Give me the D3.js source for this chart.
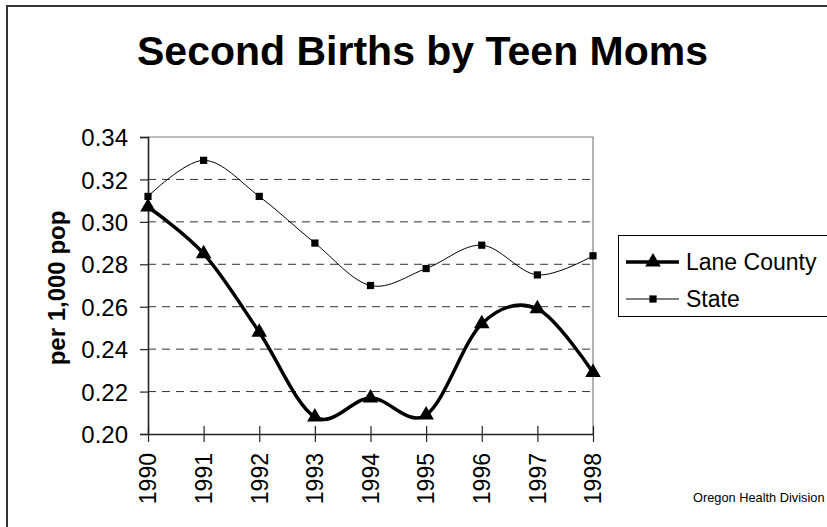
<html>
<head>
	<meta charset='utf-8' />
	<title>Second Births by Teen Moms</title>
	<script src="https://d3js.org/d3.v7.min.js"></script>
	<style>
	body { margin: 0; background: #fff; overflow: hidden; }
	text { font-family: "Liberation Sans", Arial, sans-serif; fill: #000; }
	</style>
</head>
<body>
<script>

	// data
	var years = [1990, 1991, 1992, 1993, 1994, 1995, 1996, 1997, 1998];
	var laneCounty = [0.307, 0.285, 0.248, 0.208, 0.217, 0.209, 0.252, 0.259, 0.229];
	var state = [0.312, 0.329, 0.312, 0.290, 0.270, 0.278, 0.289, 0.275, 0.284];
	var yTicks = [0.20, 0.22, 0.24, 0.26, 0.28, 0.30, 0.32, 0.34];

	var W = 827, H = 527;
	var plot = {left: 148, right: 593, top: 137, bottom: 434};

	var svg = d3.select("body").append("svg")
		.attr("width", W)
		.attr("height", H)
		.attr("xmlns","http://www.w3.org/2000/svg");

	// chart frame (only top and left show in the crop)
	svg.append("path")
		.attr("d", "M7," + (H + 5) + "V6H" + (W + 5))
		.attr("fill", "none")
		.attr("stroke", "#333")
		.attr("stroke-width", 2);

	svg.append("text")
		.attr("x", 137)
		.attr("y", 65)
		.attr("font-size", "41px")
		.attr("font-weight", "bold")
		.text("Second Births by Teen Moms");

	var xScale = d3.scalePoint().domain(years).range([plot.left, plot.right]);
	var yScale = d3.scaleLinear().domain([0.20, 0.34]).range([plot.bottom, plot.top]);

	// dashed gridlines
	svg.append("g").selectAll("line")
		.data(yTicks.filter(function(d) { return d > 0.201 && d < 0.339; }))
		.enter().append("line")
		.attr("x1", plot.left)
		.attr("x2", plot.right)
		.attr("y1", function(d) { return yScale(d); })
		.attr("y2", function(d) { return yScale(d); })
		.attr("stroke", "#333")
		.attr("stroke-width", 1)
		.attr("stroke-dasharray", "8 6");

	// plot area border (top / right grey)
	svg.append("path")
		.attr("d", "M" + plot.left + "," + plot.top + "H" + plot.right + "V" + plot.bottom)
		.attr("fill", "none")
		.attr("stroke", "#808080")
		.attr("stroke-width", 1.2);

	// y axis
	var yAxis = svg.append("g")
		.attr("transform", "translate(" + plot.left + ",0)")
		.call(d3.axisLeft(yScale).tickValues(yTicks).tickFormat(d3.format(".2f")).tickSize(8).tickPadding(12));
	yAxis.select(".domain").attr("stroke", "#222").attr("stroke-width", 1.6);
	yAxis.selectAll(".tick line").attr("stroke", "#222").attr("stroke-width", 1.2);
	yAxis.selectAll("text")
		.attr("font-family", "'Liberation Sans', Arial, sans-serif")
		.attr("font-size", "24px")
		.attr("fill", "#000")
		.attr("dy", "0.36em");

	// x axis with crossing ticks
	var xAxis = svg.append("g")
		.attr("transform", "translate(0," + plot.bottom + ")")
		.call(d3.axisBottom(xScale).tickSize(0).tickFormat(""));
	xAxis.select(".domain").attr("stroke", "#222").attr("stroke-width", 1.6);
	xAxis.selectAll(".tick").append("line")
		.attr("y1", -8)
		.attr("y2", 8)
		.attr("stroke", "#222")
		.attr("stroke-width", 1.2);

	svg.append("g").selectAll("text")
		.data(years)
		.enter().append("text")
		.attr("transform", function(d) { return "translate(" + xScale(d) + "," + (plot.bottom + 19) + ") rotate(-90)"; })
		.attr("text-anchor", "end")
		.attr("dy", "0.36em")
		.attr("font-size", "23px")
		.text(function(d) { return d; });

	svg.append("text")
		.attr("transform", "translate(65,288) rotate(-90)")
		.attr("text-anchor", "middle")
		.attr("font-size", "24px")
		.attr("font-weight", "bold")
		.text("per 1,000 pop");

	var smooth = d3.curveCatmullRom.alpha(0);

	var line = d3.line()
		.x(function(d, i) { return xScale(years[i]); })
		.y(function(d) { return yScale(d); })
		.curve(smooth);

	svg.append("path")
		.datum(state)
		.attr("fill", "none")
		.attr("stroke", "#000")
		.attr("stroke-width", 1)
		.attr("d", line);

	svg.append("path")
		.datum(laneCounty)
		.attr("fill", "none")
		.attr("stroke", "#000")
		.attr("stroke-width", 3.5)
		.attr("stroke-linejoin", "round")
		.attr("d", line);

	var square = d3.symbol().type(d3.symbolSquare).size(52);
	var triangle = d3.symbol().type(d3.symbolTriangle).size(105);

	svg.append("g").selectAll("path")
		.data(state)
		.enter().append("path")
		.attr("transform", function(d, i) { return "translate(" + xScale(years[i]) + "," + yScale(d) + ")"; })
		.attr("d", square)
		.attr("fill", "#000");

	svg.append("g").selectAll("path")
		.data(laneCounty)
		.enter().append("path")
		.attr("transform", function(d, i) { return "translate(" + xScale(years[i]) + "," + yScale(d) + ")"; })
		.attr("d", triangle)
		.attr("fill", "#000");

	// legend
	var legend = svg.append("g");
	legend.append("rect")
		.attr("x", 618.5)
		.attr("y", 235.5)
		.attr("width", 260)
		.attr("height", 81)
		.attr("fill", "#fff")
		.attr("stroke", "#000")
		.attr("stroke-width", 1);

	legend.append("line")
		.attr("x1", 626).attr("x2", 679)
		.attr("y1", 262).attr("y2", 262)
		.attr("stroke", "#000").attr("stroke-width", 3.5);
	legend.append("path")
		.attr("transform", "translate(653,262)")
		.attr("d", triangle)
		.attr("fill", "#000");
	legend.append("text")
		.attr("x", 686).attr("y", 262)
		.attr("dy", "0.36em")
		.attr("font-size", "23px")
		.text("Lane County");

	legend.append("line")
		.attr("x1", 626).attr("x2", 679)
		.attr("y1", 299).attr("y2", 299)
		.attr("stroke", "#000").attr("stroke-width", 1);
	legend.append("path")
		.attr("transform", "translate(653,299)")
		.attr("d", square)
		.attr("fill", "#000");
	legend.append("text")
		.attr("x", 686).attr("y", 299)
		.attr("dy", "0.36em")
		.attr("font-size", "23px")
		.text("State");

	svg.append("text")
		.attr("x", 693)
		.attr("y", 502)
		.attr("font-size", "12.8px")
		.text("Oregon Health Division");

</script>
</body>
</html>
